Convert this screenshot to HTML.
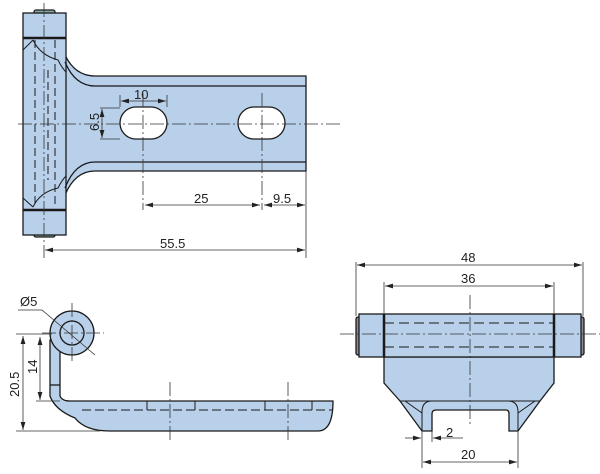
<!DOCTYPE html>
<html><head><style>html,body{margin:0;padding:0;background:#fff}svg{display:block}text{font-family:"Liberation Sans",sans-serif;font-size:13px;fill:#222}</style></head>
<body>
<svg width="600" height="474" viewBox="0 0 600 474" xmlns="http://www.w3.org/2000/svg">
<defs><marker id="a" viewBox="0 0 10 6" refX="10" refY="3" markerWidth="10" markerHeight="6" orient="auto-start-reverse"><path d="M0,0L10,3L0,6z" fill="#222"/></marker></defs>
<g stroke="#1a1a1a" fill="#b9d0ea" stroke-width="1.3">
<!-- top view -->
<rect x="34" y="10" width="21" height="4" rx="2" fill="#8aa"/>
<rect x="34" y="233" width="21" height="4" rx="2" fill="#8aa"/>
<path d="M65,55 Q75,76 95,76 L306,76 L306,171 L95,171 Q75,171 65,195 Z"/>
<rect x="23" y="13" width="43" height="222"/>
<path d="M23,38 L66,38 M23,210 L66,210" stroke-width="2.5"/>
<path d="M95,86 L306,86 M95,162 L306,162 M65,62 Q75,86 95,86 M65,188 Q75,162 95,162" fill="none"/>
<path d="M33,40 Q40,55 58,60 Q62,68 66,72 M23,50 L33,40 M33,207 Q40,192 58,188 Q62,180 66,176 M23,198 L33,207" fill="none" stroke-width="1"/>
<path d="M35,40 L35,205 M55,40 L55,205 M48,70 L48,180" fill="none" stroke-dasharray="8,4" stroke-width="1"/>
<rect x="120" y="107" width="47" height="32" rx="16" fill="#fff"/>
<rect x="238" y="107" width="47" height="32" rx="16" fill="#fff"/>
<!-- side view -->
<path d="M50,340 L60,340 L60,396 Q62,401 70,401 L333,401 Q333,431 318,431 L110,431 Q85,431 75,418 Q55,410 50,396 Z"/>
<path d="M50,385 L60,385" fill="none"/>
<circle cx="72" cy="333" r="22"/>
<circle cx="72" cy="333" r="12"/>
<path d="M82,410 L333,410 M147,401 L147,410 M195,401 L195,410 M265,401 L265,410 M312,401 L312,410" fill="none" stroke-dasharray="9,4" stroke-width="1"/>
<!-- right view -->
<path d="M384,357 L384,383 L400,401 L422,431 L432,431 L432,414 Q432,410 436,410 L506,410 Q509,410 509,414 L509,431 L518,431 L540,401 L554,383 L554,357 Z"/>
<path d="M400,401 L540,401 M422,431 L422,412 Q422,401 432,401 M518,431 L518,412 Q518,401 508,401 M405,401 L422,413 M535,401 L518,413" fill="none" stroke-width="1"/>
<rect x="356" y="317" width="4" height="38" rx="2" fill="#889"/>
<rect x="580" y="317" width="4" height="38" rx="2" fill="#889"/>
<rect x="359" y="314" width="222" height="43"/>
<path d="M384,314 L384,357 M554,314 L554,357" stroke-width="2.5"/>
<path d="M384,323 L554,323 M384,347 L554,347" fill="none" stroke-dasharray="10,5" stroke-width="1"/>
</g>
<g stroke="#333" stroke-width="0.8" fill="none">
<!-- centre lines -->
<path d="M18,124 L340,124 M44,3 L44,258 M143,93 L143,210 M262,93 L262,210" stroke-dasharray="14,3,2,3"/>
<path d="M340,334 L600,334 M470,295 L470,425 M72,303 L72,363 M42,333 L104,333 M170,382 L170,440 M288,382 L288,440" stroke-dasharray="14,3,2,3"/>
<!-- dims top -->
<path d="M306,171 L306,258 M120,95 L120,107 M167,95 L167,107 M100,108 L120,108 M100,139 L120,139"/>
<path d="M145,205 L260,205" marker-start="url(#a)" marker-end="url(#a)"/>
<path d="M264,205 L305,205" marker-start="url(#a)" marker-end="url(#a)"/>
<path d="M45,250 L305,250" marker-start="url(#a)" marker-end="url(#a)"/>
<path d="M121,101 L166,101" marker-start="url(#a)" marker-end="url(#a)"/>
<path d="M102,109 L102,138" marker-start="url(#a)" marker-end="url(#a)"/>
<!-- dims side -->
<path d="M16,334 L52,334 M16,431 L100,431 M36,401 L60,401 M18,310 L42,310 L95,355"/>
<path d="M23,336 L23,430" marker-start="url(#a)" marker-end="url(#a)"/>
<path d="M40,337 L40,400" marker-start="url(#a)" marker-end="url(#a)"/>
<!-- dims right -->
<path d="M356,262 L356,316 M583,262 L583,316 M384,282 L384,314 M554,282 L554,314 M422,431 L422,468 M432,431 L432,442 M518,431 L518,468"/>
<path d="M357,265 L582,265" marker-start="url(#a)" marker-end="url(#a)"/>
<path d="M385,286 L553,286" marker-start="url(#a)" marker-end="url(#a)"/>
<path d="M423,462 L517,462" marker-start="url(#a)" marker-end="url(#a)"/>
<path d="M405,438 L421,438" marker-end="url(#a)"/>
<path d="M433,438 L463,438" marker-start="url(#a)"/>
</g>
<text x="134" y="99">10</text>
<text x="194" y="203">25</text>
<text x="273" y="203">9.5</text>
<text x="160" y="248">55.5</text>
<text x="0" y="0" transform="translate(99,131) rotate(-90)">6.5</text>
<text x="20" y="306">Ø5</text>
<text x="0" y="0" transform="translate(19,397) rotate(-90)">20.5</text>
<text x="0" y="0" transform="translate(37,374) rotate(-90)">14</text>
<text x="461" y="262">48</text>
<text x="461" y="283">36</text>
<text x="446" y="437">2</text>
<text x="461" y="459">20</text>
</svg>
</body></html>
